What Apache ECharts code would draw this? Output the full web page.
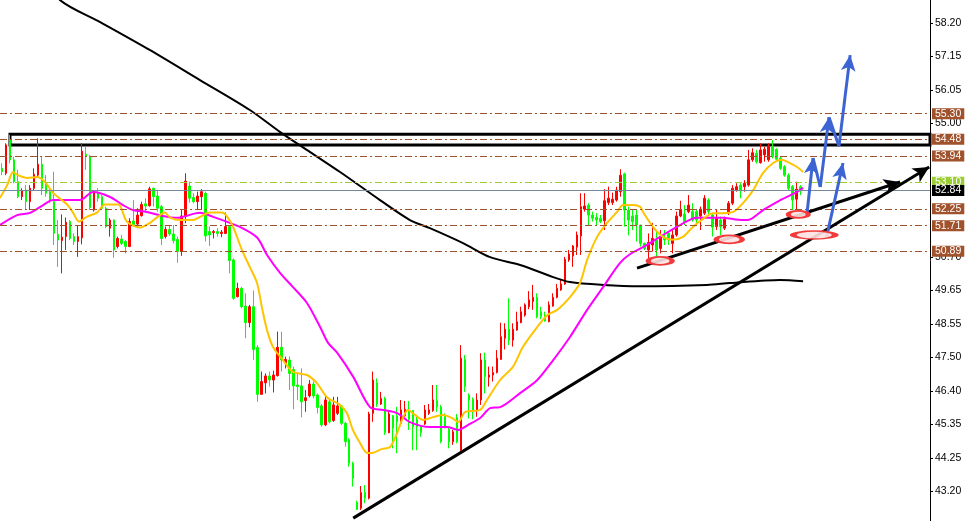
<!DOCTYPE html>
<html>
<head>
<meta charset="utf-8">
<script src="https://cdn.jsdelivr.net/npm/echarts@6/dist/echarts.min.js"></script>
<style>html,body{margin:0;padding:0;background:#fff}#c{width:970px;height:521px}</style>
</head>
<body>
<div id="c"></div>
<script>
// ---- DATA ----
// candles: [open, close, low, high]
const candles = [
[53.55,53.44,53.33,53.71],[53.39,54.30,53.33,54.35],[54.46,53.82,53.71,54.62],[53.82,53.12,53.07,53.92],[53.12,52.64,52.59,53.50],
[52.64,52.82,52.53,52.91],[52.85,52.48,52.21,53.01],[52.48,52.91,52.21,53.01],[52.91,53.36,52.85,53.55],[53.33,53.68,53.28,54.51],
[53.68,52.91,52.69,53.92],[53.01,52.75,52.64,53.33],[52.80,52.53,52.43,52.96],[52.48,51.46,51.09,53.44],[51.43,51.25,50.39,51.89],
[51.23,51.34,50.18,52.07],[51.36,51.82,50.93,51.97],[51.84,51.30,51.25,51.89],[51.36,51.20,51.09,51.46],[51.20,51.36,50.71,51.73],
[51.32,54.10,51.11,54.35],[54.00,53.94,53.50,54.24],[53.94,52.29,52.21,53.98],[52.21,52.80,52.16,52.85],[52.75,52.59,52.48,52.91],
[52.64,52.27,52.21,52.69],[52.27,51.68,51.63,52.32],[51.63,51.89,51.36,51.95],[51.89,50.93,50.68,51.91],[51.04,51.30,50.98,51.36],
[51.28,51.14,51.09,51.41],[51.20,51.04,50.82,51.25],[51.04,51.84,51.02,51.95],[51.86,51.75,51.68,52.53],[51.76,52.05,51.63,52.27],
[52.03,52.39,52.00,52.48],[52.41,52.34,52.16,52.59],[52.35,52.89,52.32,52.96],[52.91,52.64,52.32,52.93],[52.66,52.27,52.16,52.85],
[52.32,51.30,51.09,52.37],[51.36,51.59,51.30,51.68],[51.59,51.44,51.38,51.73],[51.44,51.23,51.14,51.73],[51.27,50.88,50.52,51.36],
[50.88,52.02,50.74,52.21],[52.00,53.14,51.79,53.39],[52.98,52.59,52.45,53.12],[52.61,52.48,52.43,52.75],[52.48,52.66,52.21,52.80],
[52.64,52.80,52.21,52.88],[52.75,51.38,51.20,52.80],[51.52,51.41,51.06,51.68],[51.49,51.52,51.30,51.57],[51.52,51.46,51.36,51.63],
[51.46,51.50,51.34,51.57],[51.46,51.68,51.44,52.13],[51.68,50.59,50.18,51.73],[50.61,49.38,49.33,50.66],[49.43,49.70,49.41,49.88],
[49.70,49.11,49.06,49.75],[49.13,48.60,48.10,49.54],[48.60,49.11,48.45,49.17],[49.11,47.74,47.40,49.63],[47.80,46.30,46.06,47.88],
[46.30,46.71,46.28,47.03],[46.67,46.89,46.33,46.97],[46.89,46.76,46.55,47.03],[46.76,46.92,46.36,47.06],[46.90,47.81,46.87,48.31],
[47.81,47.40,47.03,48.31],[47.31,47.42,47.13,47.51],[47.40,46.97,46.44,47.51],[47.10,46.57,45.82,47.19],[46.60,46.55,46.12,46.97],
[46.57,46.06,45.56,47.13],[46.10,46.19,45.74,46.44],[46.25,46.63,46.20,46.76],[46.63,46.25,46.17,46.71],[46.28,45.88,45.69,46.33],
[45.93,45.32,45.26,45.99],[45.32,46.12,45.28,46.28],[46.06,45.42,45.37,46.12],[45.46,45.96,45.42,46.22],[45.69,45.93,45.64,46.22],
[45.93,45.37,45.32,45.96],[45.37,44.78,44.62,45.42],[44.84,44.09,43.98,44.89],[44.09,43.61,43.34,44.14],[42.83,42.61,42.59,42.89],
[42.65,43.15,42.59,43.36],[43.15,42.97,42.81,43.39],[42.97,45.67,42.93,45.74],[45.69,46.76,45.42,47.03],[46.67,45.99,45.90,46.81],
[45.99,46.17,45.96,46.38],[46.17,45.07,45.00,46.22],[45.07,45.67,45.05,45.80],[45.61,45.21,44.57,45.64],[45.61,45.42,44.41,45.90],
[45.37,45.80,45.32,46.12],[45.61,45.82,45.58,46.09],[45.80,45.50,45.16,46.09],[45.78,45.26,44.51,45.80],[45.50,45.26,44.51,45.64],
[45.26,45.07,44.94,45.32],[45.35,45.80,45.32,45.96],[45.69,45.80,45.64,45.99],[45.78,46.12,45.74,46.60],[46.10,45.90,45.74,46.60],
[45.90,44.78,44.73,45.96],[45.61,45.26,45.21,45.69],[45.18,44.78,44.57,45.24],[44.78,45.10,44.68,45.16],[45.56,44.78,44.73,45.67],
[44.51,47.46,44.49,47.88],[47.42,46.55,46.38,47.56],[46.28,46.12,45.53,46.33],[46.14,45.75,45.50,46.20],[45.78,46.12,45.58,46.33],
[46.12,47.40,45.96,47.62],[47.40,46.87,46.33,47.64],[46.85,46.92,46.55,47.19],[46.92,47.00,46.71,47.19],[47.00,47.46,46.97,47.72],
[47.42,48.15,47.40,48.60],[48.10,48.39,47.74,48.58],[48.39,48.04,47.88,49.38],[48.04,48.39,47.83,48.58],[48.36,48.63,48.34,48.95],
[48.60,48.95,48.58,49.11],[48.84,49.17,48.79,49.22],[49.11,49.33,49.03,49.61],[49.28,49.41,49.01,49.81],[49.41,48.79,48.74,49.54],
[48.95,48.79,48.71,49.11],[48.84,48.65,48.63,48.95],[48.63,49.17,48.61,49.28],[49.13,49.41,49.11,49.54],[49.41,49.70,49.38,49.84],
[49.65,49.84,49.62,50.00],[49.84,50.63,49.81,50.71],[50.61,50.80,50.55,50.93],[50.74,51.06,50.39,51.09],[51.02,51.41,50.77,51.52],
[51.38,52.32,50.77,52.75],[52.24,52.34,52.16,52.75],[52.37,52.05,51.73,52.43],[52.05,51.95,51.84,52.16],[51.98,51.89,51.73,52.11],
[51.95,51.84,51.79,52.05],[51.87,52.51,51.57,52.88],[52.45,52.59,52.37,52.96],[52.45,52.56,52.37,52.77],[52.53,52.85,52.48,52.96],
[52.80,53.33,52.64,53.52],[53.37,52.21,51.68,53.41],[52.21,51.89,51.40,52.32],[52.02,51.84,51.57,52.21],[52.05,51.73,51.20,52.21],
[51.73,51.14,51.04,51.73],[51.14,50.98,50.93,51.17],[50.93,51.17,50.66,51.46],[51.09,51.30,50.88,51.79],[51.25,50.93,50.66,51.57],
[50.98,51.36,50.82,51.57],[51.30,51.25,51.09,51.57],[51.46,51.25,51.09,51.52],[51.14,51.41,50.82,51.57],[51.41,52.02,51.36,52.16],
[52.02,52.21,51.98,52.51],[52.08,51.84,51.73,52.37],[52.16,52.37,52.11,52.69],[52.16,51.89,51.84,52.43],[52.16,51.89,51.73,52.21],
[52.02,52.24,51.57,52.32],[52.11,52.59,52.05,52.69],[52.53,52.16,52.05,52.59],[52.05,51.66,51.36,52.11],[51.68,51.95,51.57,52.21],
[51.89,51.68,51.41,52.00],[51.63,51.91,51.57,52.00],[52.13,52.43,52.05,52.50],[52.43,52.91,52.37,53.01],[52.85,52.96,52.80,53.07],
[53.01,52.85,52.59,53.07],[52.96,53.07,52.80,53.17],[53.01,53.82,52.96,54.14],[53.82,54.05,53.76,54.19],[54.03,53.76,53.70,54.14],
[53.73,54.14,53.70,54.35],[53.98,54.16,53.76,54.24],[53.82,54.27,53.76,54.35],[54.24,53.92,53.87,54.46],[54.16,53.84,53.82,54.19],
[53.87,53.55,53.50,53.92],[53.60,53.33,53.28,53.65],[53.33,52.91,52.85,53.39],[52.96,52.53,52.21,53.01],[52.56,52.88,52.24,53.12],
[52.96,52.85,52.69,53.01]
];
// moving averages: [bar index, price]
const maFast = [
[-0.5,52.60],[1.3,53.01],[2.8,53.43],[4.0,53.33],[6.3,53.24],[8.8,53.27],[10.8,53.11],[12.8,52.76],[16.3,52.39],[17.8,52.13],
[19.3,51.84],[21.3,52.00],[23.8,52.13],[25.8,52.39],[29.1,52.39],[31.3,51.84],[34.6,51.65],[37.1,51.80],[39.1,52.00],[40.8,52.13],
[42.1,51.97],[44.6,51.89],[47.9,51.89],[49.6,51.99],[52.1,52.13],[55.1,52.13],[56.4,52.00],[57.9,51.67],[60.1,50.93],[62.1,50.38],
[63.9,49.87],[65.1,49.10],[66.4,48.36],[67.9,47.82],[70.4,47.40],[72.9,47.02],[76.4,46.92],[78.9,46.66],[81.4,46.21],[84.7,45.96],
[86.4,45.70],[87.9,45.16],[89.7,44.74],[91.5,44.42],[92.7,44.42],[95.2,44.55],[97.2,44.61],[99.0,45.06],[100.5,45.57],[101.7,45.80],
[103.5,45.64],[105.5,45.48],[108.0,45.57],[110.5,45.64],[112.8,45.54],[114.3,45.41],[116.0,45.73],[119.8,45.80],[121.5,46.12],[124.8,46.76],
[128.0,47.18],[130.5,47.82],[134.1,48.46],[136.6,48.84],[139.1,49.01],[142.3,49.42],[144.8,49.87],[146.6,50.61],[149.1,51.35],[151.6,51.80],
[154.1,52.15],[155.6,52.37],[158.1,52.37],[159.9,52.31],[160.6,52.15],[163.1,51.67],[165.6,51.35],[168.1,51.26],[170.6,51.35],[173.1,51.67],
[175.6,51.92],[178.1,52.11],[180.7,52.11],[183.2,52.15],[185.7,52.44],[188.2,52.85],[190.7,53.40],[193.2,53.72],[195.4,53.82],[196.9,53.75],
[199.2,53.59],[200.7,53.43]
];
const maSlow = [
[-0.5,51.73],[3.8,52.05],[7.0,52.12],[10.3,52.37],[12.8,52.53],[19.5,52.53],[22.8,52.79],[27.1,52.63],[30.3,52.37],[32.8,52.21],
[36.3,52.15],[40.3,52.02],[43.8,51.96],[49.6,52.12],[52.9,51.99],[56.4,51.83],[59.6,51.67],[63.9,51.33],[66.4,50.77],[69.7,50.19],
[72.9,49.74],[76.4,49.23],[79.7,48.46],[81.7,47.95],[84.0,47.63],[88.0,46.86],[92.2,45.89],[95.5,45.80],[99.0,45.70],[102.2,45.41],
[107.2,45.25],[111.5,45.25],[114.3,45.16],[116.8,45.32],[119.8,45.54],[122.3,45.86],[124.8,45.89],[129.8,46.34],[134.1,46.76],[138.1,47.40],
[142.3,48.14],[146.6,49.01],[150.6,49.74],[154.8,50.51],[157.4,50.80],[161.6,51.09],[165.6,51.41],[169.9,51.73],[174.1,51.96],[177.4,51.96],
[180.7,51.96],[183.2,51.92],[186.7,51.89],[190.7,52.21],[195.0,52.53],[199.2,52.79],[200.7,52.92]
];
const maLong = [
[9.5,59.91],[14.5,58.95],[24.6,58.24],[37.1,57.34],[49.6,56.38],[62.1,55.42],[69.7,54.71],[77.2,54.07],[84.7,53.43],[94.7,52.53],
[102.2,51.89],[107.2,51.63],[115.5,51.15],[122.3,50.70],[129.8,50.45],[138.1,50.06],[142.3,49.90],[150.6,49.81],[159.9,49.77],[176.6,49.81],
[182.4,49.87],[194.9,49.97],[200.7,49.93]
];
const tickValues = [43.20, 44.25, 45.35, 46.40, 47.50, 48.55, 49.65, 50.70, 55.00, 56.05, 57.15, 58.20];
const levelPrices = [55.30, 54.48, 53.94, 52.25, 51.71, 50.89];
const signalPrice = 53.10;
const bidPrice = 52.84;
const zoneBox = [[2.0, 54.64], [232.5, 54.30]];
const trendLines = [[[88.0, 42.33], [232.3, 53.59]], [[159.1, 50.35], [225.0, 53.11]]];
const bluePath = [[201.7, 52.12], [203.2, 53.88], [205.0, 52.95], [207.2, 55.19], [209.7, 54.26], [212.5, 57.18]];
const blueArrow2 = [[206.6, 51.35], [210.7, 53.72]];
const ellipseCenters = [[164.9, 50.58], [182.2, 51.27], [199.5, 52.07], [203.5, 51.41]];

// ---- STYLE ----
const slotCount = 233;
const categories = Array.from({length: slotCount}, (_, i) => String(i));
const ellipseSizes = [[24, 8], [26, 8], [20, 7], [42, 8]];
const FONT = 'Liberation Sans';
const brown = '#a0522d';
const dashDot = [7, 3, 2, 3];

function levelItem(v, lineColor, bg, type) {
  return {
    yAxis: v,
    lineStyle: {color: lineColor, width: 1, type: type},
    label: {show: true, position: 'end', distance: 2, formatter: () => v.toFixed(2),
      backgroundColor: bg, color: '#fff', padding: [1, 3, 0, 3], lineHeight: 10,
      fontSize: 10.5, fontFamily: FONT}
  };
}
const levelData = levelPrices.map(v => levelItem(v, brown, brown, dashDot));
levelData.push(levelItem(signalPrice, '#9acd32', '#9acd32', dashDot));
levelData.push(levelItem(bidPrice, '#778899', '#000', 'solid'));

const blueUp = [], blueDown = [];
for (let i = 0; i < bluePath.length - 1; i++) {
  const seg = [{coord: bluePath[i]}, {coord: bluePath[i + 1]}];
  (bluePath[i + 1][1] > bluePath[i][1] ? blueUp : blueDown).push(seg);
}
blueUp.push([{coord: blueArrow2[0]}, {coord: blueArrow2[1]}]);

const chart = echarts.init(document.getElementById('c'), null, {renderer: 'canvas'});
chart.setOption({
  animation: false,
  backgroundColor: '#fff',
  grid: {left: 0, right: 40, top: 0, bottom: 0},
  xAxis: [
    {type: 'category', data: categories, boundaryGap: true, show: false},
    {type: 'value', min: -0.5, max: slotCount - 0.5, show: false}
  ],
  yAxis: {
    type: 'value', position: 'right', min: 42.238, max: 58.947,
    axisLine: {show: true, onZero: false, lineStyle: {color: '#000', width: 1}},
    axisTick: {show: true, customValues: tickValues, length: 3, lineStyle: {color: '#000'}},
    axisLabel: {customValues: tickValues, formatter: v => v.toFixed(2), color: '#000',
      fontFamily: FONT, fontSize: 10.5, margin: 5},
    splitLine: {show: false}
  },
  series: [
    {type: 'line', xAxisIndex: 1, data: [], z: 1, silent: true,
      markLine: {silent: true, symbol: ['none', 'none'], animation: false, data: levelData},
      markArea: {silent: true, itemStyle: {color: 'rgba(0,0,0,0)', borderColor: '#000', borderWidth: 3},
        data: [[{coord: zoneBox[0]}, {coord: zoneBox[1]}]]}
    },
    {type: 'candlestick', data: candles, barWidth: 2, z: 3,
      itemStyle: {color: '#ff0000', color0: '#00ff00', borderColor: '#ff0000', borderColor0: '#00ff00', borderWidth: 1}},
    {type: 'line', xAxisIndex: 1, data: maLong, smooth: 0.3, showSymbol: false, z: 4,
      lineStyle: {color: '#000', width: 2}},
    {type: 'line', xAxisIndex: 1, data: maSlow, smooth: 0.3, showSymbol: false, z: 4,
      lineStyle: {color: '#ff00ff', width: 2}},
    {type: 'line', xAxisIndex: 1, data: maFast, smooth: 0.3, showSymbol: false, z: 4,
      lineStyle: {color: '#ffc400', width: 2}},
    {type: 'scatter', xAxisIndex: 1, data: ellipseCenters, z: 5, silent: true,
      symbol: 'circle', symbolSize: (val, p) => ellipseSizes[p.dataIndex],
      itemStyle: {color: 'rgba(255,225,225,0.9)', borderColor: '#f23a3a', borderWidth: 3, opacity: 1}},
    {type: 'line', xAxisIndex: 1, data: [], z: 6, silent: true,
      markLine: {silent: true, animation: false, symbol: ['none', 'arrow'], symbolSize: [12, 16],
        label: {show: false}, lineStyle: {color: '#000', width: 3, type: 'solid'},
        data: trendLines.map(t => [{coord: t[0]}, {coord: t[1]}])}},
    {type: 'line', xAxisIndex: 1, data: [], z: 7, silent: true,
      markLine: {silent: true, animation: false, symbol: ['none', 'arrow'], symbolSize: [11, 16],
        label: {show: false}, lineStyle: {color: '#3c64d2', width: 3, type: 'solid'},
        data: blueUp}},
    {type: 'line', xAxisIndex: 1, data: [], z: 7, silent: true,
      markLine: {silent: true, animation: false, symbol: ['none', 'none'],
        label: {show: false}, lineStyle: {color: '#3c64d2', width: 3, type: 'solid'},
        data: blueDown}}
  ]
});
</script>
</body>
</html>
